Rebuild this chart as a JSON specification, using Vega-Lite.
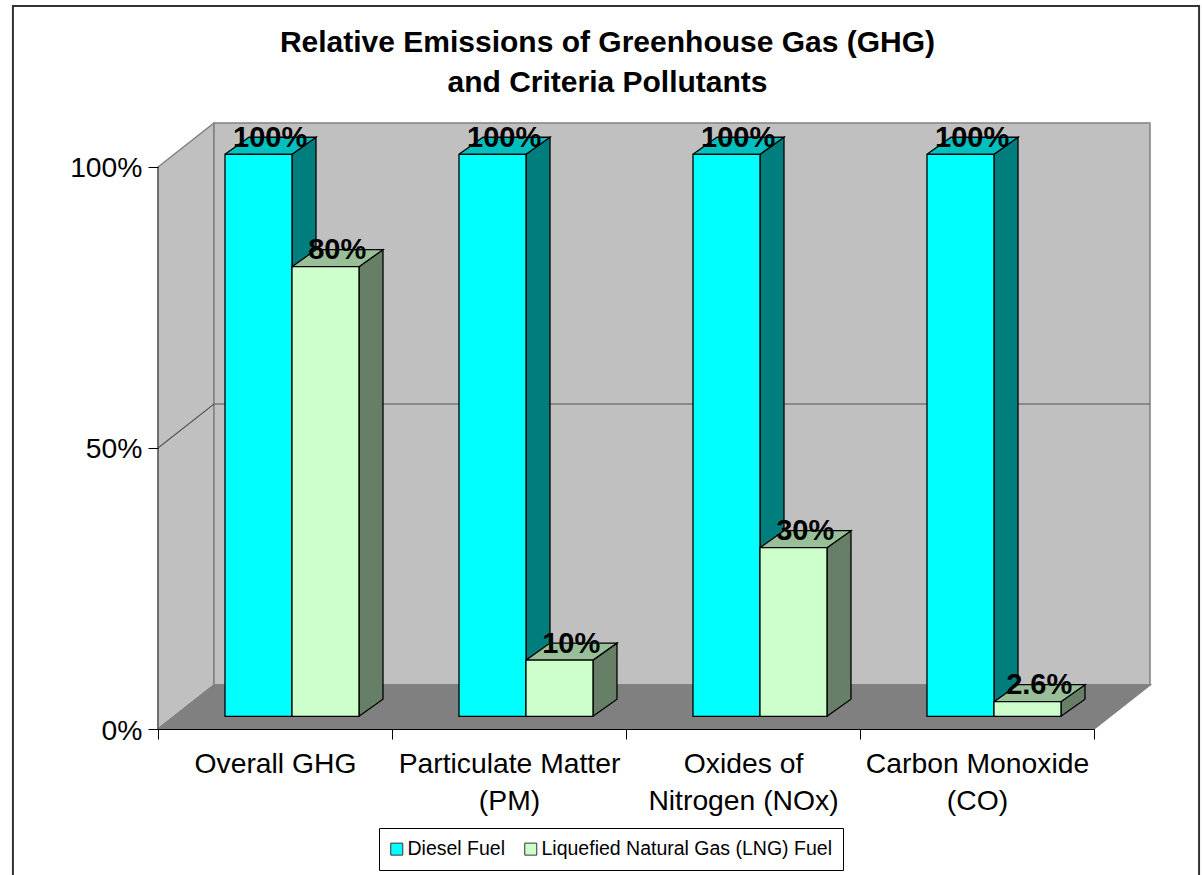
{
"$schema":"https://vega.github.io/schema/vega-lite/v6.json",
"width":993,"height":605,
"autosize":"none",
"padding":{"left":158,"top":124,"right":51,"bottom":146},
"background":"white",
"title":{"text":["Relative Emissions of Greenhouse Gas (GHG)","and Criteria Pollutants"],"font":"Liberation Sans","fontSize":30,"fontWeight":"bold","color":"black","lineHeight":40,"anchor":"middle","dx":-47,"offset":-96},
"config":{"view":{"stroke":null}},
"datasets":{
"bars":[
{"category":"Overall GHG","series":"Diesel Fuel","value":100,"label":"100%"},
{"category":"Overall GHG","series":"Liquefied Natural Gas (LNG) Fuel","value":80,"label":"80%"},
{"category":"Particulate Matter (PM)","series":"Diesel Fuel","value":100,"label":"100%"},
{"category":"Particulate Matter (PM)","series":"Liquefied Natural Gas (LNG) Fuel","value":10,"label":"10%"},
{"category":"Oxides of Nitrogen (NOx)","series":"Diesel Fuel","value":100,"label":"100%"},
{"category":"Oxides of Nitrogen (NOx)","series":"Liquefied Natural Gas (LNG) Fuel","value":30,"label":"30%"},
{"category":"Carbon Monoxide (CO)","series":"Diesel Fuel","value":100,"label":"100%"},
{"category":"Carbon Monoxide (CO)","series":"Liquefied Natural Gas (LNG) Fuel","value":2.6,"label":"2.6%"}
],
"walls":[
{"part":"side","k":0,"p":0,"v":0,"d":0},{"part":"side","k":1,"p":0,"v":100,"d":0},{"part":"side","k":2,"p":0,"v":100,"d":1},{"part":"side","k":3,"p":0,"v":0,"d":1},{"part":"side","k":4,"p":0,"v":0,"d":0},
{"part":"back","k":0,"p":0,"v":0,"d":1},{"part":"back","k":1,"p":0,"v":100,"d":1},{"part":"back","k":2,"p":4,"v":100,"d":1},{"part":"back","k":3,"p":4,"v":0,"d":1},{"part":"back","k":4,"p":0,"v":0,"d":1},
{"part":"floor","k":0,"p":0,"v":0,"d":0},{"part":"floor","k":1,"p":0,"v":0,"d":1},{"part":"floor","k":2,"p":4,"v":0,"d":1},{"part":"floor","k":3,"p":4,"v":0,"d":0},{"part":"floor","k":4,"p":0,"v":0,"d":0}
],
"lines":[
{"part":"grid","k":0,"p":0,"v":50,"d":0},{"part":"grid","k":1,"p":0,"v":50,"d":1},{"part":"grid","k":2,"p":4,"v":50,"d":1},
{"part":"axis","k":0,"p":0,"v":0,"d":0},{"part":"axis","k":1,"p":0,"v":100,"d":0}
],
"outline":[
{"k":0,"p":-0.62,"v":-27},{"k":1,"p":-0.62,"v":128.66},{"k":2,"p":4.449,"v":128.66},{"k":3,"p":4.449,"v":-27}
]
},
"data":{"name":"bars"},
"transform":[
{"calculate":"indexof(['Overall GHG','Particulate Matter (PM)','Oxides of Nitrogen (NOx)','Carbon Monoxide (CO)'],datum.category)+(datum.series=='Diesel Fuel'?0.2863:0.5726)","as":"left"},
{"calculate":"datum.left+0.2863","as":"right"},
{"calculate":"2.26+datum.value","as":"top"}
],
"layer":[
{"mark":{"type":"rule","opacity":0},
 "encoding":{"x":{"field":"category","type":"nominal","sort":null,"title":null,
  "scale":{"domain":["Overall GHG","Particulate Matter (PM)","Oxides of Nitrogen (NOx)","Carbon Monoxide (CO)"],"range":[0,936],"paddingInner":0,"paddingOuter":0},
  "axis":{"zindex":1,"tickBand":"extent","labelAngle":0,"labelFont":"Liberation Sans","labelFontSize":28.3,"labelColor":"black","labelLineHeight":37,"labelPadding":11,"labelBaseline":"top","labelLimit":400,"tickSize":10,"tickColor":"black","domainColor":"black",
   "labelExpr":"{'Particulate Matter (PM)':['Particulate Matter','(PM)'],'Oxides of Nitrogen (NOx)':['Oxides of','Nitrogen (NOx)'],'Carbon Monoxide (CO)':['Carbon Monoxide','(CO)']}[datum.label]||datum.label"}}}},
{"data":{"name":"walls"},
 "transform":[{"calculate":"datum.p+datum.d*0.2393","as":"sx"},{"calculate":"datum.v+datum.d*7.83","as":"sy"}],
 "mark":{"type":"line","stroke":"#808080","strokeWidth":1.5,"fill":"#c0c0c0"},
 "encoding":{
  "x":{"field":"sx","type":"quantitative","scale":{"domain":[0,4.2436],"nice":false,"zero":false},"axis":null},
  "y":{"field":"sy","type":"quantitative","scale":{"domain":[0,107.65],"nice":false},"title":null,
   "axis":{"zindex":1,"values":[0,50,100],"labelExpr":"datum.value+'%'","grid":false,"domain":false,"tickSize":10,"tickColor":"black","labelFont":"Liberation Sans","labelFontSize":28.3,"labelColor":"black","labelPadding":6,"labelOffset":2}},
  "detail":{"field":"part"},"order":{"field":"k"},
  "fill":{"condition":{"test":"datum.part=='floor'","value":"#808080"},"value":"#c0c0c0"}}},
{"data":{"name":"lines"},
 "transform":[{"calculate":"datum.p+datum.d*0.2393","as":"sx"},{"calculate":"datum.v+datum.d*7.83","as":"sy"}],
 "mark":{"type":"line","strokeWidth":1.2,"color":"#555555"},
 "encoding":{"x":{"field":"sx","type":"quantitative","scale":{"domain":[0,4.2436],"nice":false,"zero":false},"axis":null},"y":{"field":"sy","type":"quantitative"},"detail":{"field":"part"},"order":{"field":"k"}}},
{"data":{"name":"outline"},
 "mark":{"type":"line","strokeWidth":2,"color":"#333333","clip":false},
 "encoding":{"x":{"field":"p","type":"quantitative","scale":{"domain":[0,4.2436],"nice":false,"zero":false},"axis":null},"y":{"field":"v","type":"quantitative"},"order":{"field":"k"}}},
{"transform":[
  {"calculate":"[0,1,2,3,4]","as":"k"},{"flatten":["k"]},
  {"calculate":"datum.right+0.1026*[0,0,1,1,0][datum.k]","as":"sx"},
  {"calculate":"2.26+datum.value*[0,1,1,0,0][datum.k]+3.03*[0,0,1,1,0][datum.k]","as":"sy"}],
 "mark":{"type":"line","stroke":"black","strokeWidth":1.3},
 "encoding":{"x":{"field":"sx","type":"quantitative","scale":{"domain":[0,4.2436],"nice":false,"zero":false},"axis":null},"y":{"field":"sy","type":"quantitative"},"detail":[{"field":"category"},{"field":"series"}],"order":{"field":"k"},
  "fill":{"condition":{"test":"datum.series=='Diesel Fuel'","value":"#007d7d"},"value":"#667f66"}}},
{"transform":[
  {"calculate":"[0,1,2,3,4]","as":"k"},{"flatten":["k"]},
  {"calculate":"[datum.left,datum.right,datum.right+0.1026,datum.left+0.1026,datum.left][datum.k]","as":"sx"},
  {"calculate":"datum.top+3.03*[0,0,1,1,0][datum.k]","as":"sy"}],
 "mark":{"type":"line","stroke":"black","strokeWidth":1.3},
 "encoding":{"x":{"field":"sx","type":"quantitative","scale":{"domain":[0,4.2436],"nice":false,"zero":false},"axis":null},"y":{"field":"sy","type":"quantitative"},"detail":[{"field":"category"},{"field":"series"}],"order":{"field":"k"},
  "fill":{"condition":{"test":"datum.series=='Diesel Fuel'","value":"#00bfbf"},"value":"#99bf99"}}},
{"transform":[{"calculate":"2.26","as":"base"}],
 "mark":{"type":"rect","stroke":"black","strokeWidth":1.3},
 "encoding":{"x":{"field":"left","type":"quantitative","scale":{"domain":[0,4.2436],"nice":false,"zero":false},"axis":null},"x2":{"field":"right"},"y":{"field":"top","type":"quantitative"},"y2":{"field":"base"},
  "color":{"field":"series","type":"nominal","scale":{"domain":["Diesel Fuel","Liquefied Natural Gas (LNG) Fuel"],"range":["#00ffff","#ccffcc"]},
   "legend":{"title":null,"orient":"none","legendX":221,"legendY":704,"direction":"horizontal","columns":2,"symbolType":"square","symbolSize":144,"symbolOffset":-3,"symbolStrokeColor":"#333333","symbolStrokeWidth":1,"labelFont":"Liberation Sans","labelFontSize":19.5,"labelColor":"black","labelLimit":400,"labelOffset":1,"fillColor":"white","strokeColor":"black","padding":11,"columnPadding":16}}}},
{"transform":[{"calculate":"(datum.left+datum.right)/2+0.05","as":"lx"},{"calculate":"datum.top+1.3","as":"ly"}],
 "mark":{"type":"text","font":"Liberation Sans","fontSize":29,"fontWeight":"bold","color":"black","baseline":"alphabetic","align":"center"},
 "encoding":{"x":{"field":"lx","type":"quantitative","scale":{"domain":[0,4.2436],"nice":false,"zero":false},"axis":null},"y":{"field":"ly","type":"quantitative"},"text":{"field":"label"}}}
],
"resolve":{"scale":{"x":"independent"}}
}
